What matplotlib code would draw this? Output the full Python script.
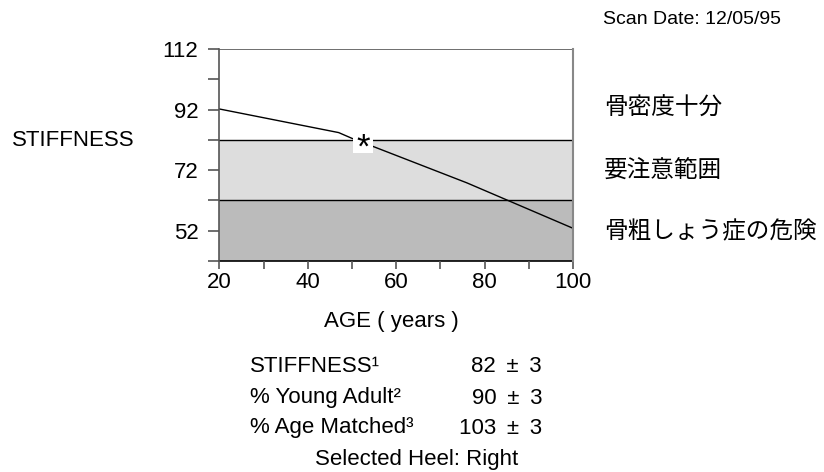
import matplotlib.pyplot as plt
from matplotlib.patches import Rectangle

plt.rcParams['font.family'] = ['Liberation Sans', 'Noto Sans CJK JP', 'DejaVu Sans']

# curve of reference stiffness by age
ages = [20, 47, 50, 55, 76, 100]
stiffness = [92.2, 84.4, 82.5, 79.7, 67.8, 52.8]

# zone limits
zone_low = 42
zone_mid = 62
zone_high = 82
y_top = 112

patient_age = 52.6
patient_value = 79.4

ytick_values = [42, 52, 62, 72, 82, 92, 102, 112]
ytick_labels = ['', '52', '', '72', '', '92', '', '112']
xtick_values = [20, 30, 40, 50, 60, 70, 80, 90, 100]
xtick_labels = ['20', '', '40', '', '60', '', '80', '', '100']

zone_names = ['骨密度十分', '要注意範囲', '骨粗しょう症の危険']
zone_label_px = [109, 172, 232]

row_names = ['STIFFNESS¹', '% Young Adult²', '% Age Matched³']
row_values = ['82 \u2009±\u2009 3', '90 \u2009±\u2009 3', '103 \u2009±\u2009 3']
row_px = [367, 398, 428]

W, H = 824, 472


def fx(px):
    return px / W


def fy(px):
    return 1 - px / H


fig = plt.figure(figsize=(8.24, 4.72), dpi=100)
ax = fig.add_axes([fx(219.3), fy(261), (573 - 219.3) / W, (261 - 49) / H])

ax.axhspan(zone_low, zone_mid, color='#bbbbbb', lw=0, zorder=0)
ax.axhspan(zone_mid, zone_high, color='#dddddd', lw=0, zorder=0)
ax.axhline(zone_mid, color='black', lw=1, zorder=1)
ax.axhline(zone_high, color='black', lw=1, zorder=1)
ax.axhline(y_top, color='#555555', lw=1.2, zorder=1)
ax.plot(ages, stiffness, color='black', lw=1, zorder=2)

ax.add_patch(Rectangle((50.3, 77.7), 4.5, 5.9,
                       facecolor='white', edgecolor='none', zorder=3))
ax.text(patient_age, patient_value, '*', fontsize=25, ha='center', va='center',
        zorder=4)

ax.set_xlim(20, 100)
ax.set_ylim(zone_low, y_top)
ax.set_xticks(xtick_values)
ax.set_xticklabels(xtick_labels)
ax.set_yticks(ytick_values)
ax.set_yticklabels(ytick_labels)
ax.tick_params(axis='both', direction='out', width=1.2,
               color='#555555', labelsize=16)
ax.tick_params(axis='y', length=8, pad=7)
ax.tick_params(axis='x', length=5.5, pad=2.5)

for side in ['top', 'bottom']:
    ax.spines[side].set_visible(False)
ax.spines['left'].set_color('#555555')
ax.spines['left'].set_linewidth(1.2)
ax.spines['right'].set_color('#888888')
ax.spines['right'].set_linewidth(1.5)
ax.axhline(zone_low, color='black', lw=1.2, zorder=1, clip_on=False)

for name, yp in zip(zone_names, zone_label_px):
    fig.text(fx(604), fy(yp), name, fontsize=17, va='center', ha='left')

fig.text(fx(12), fy(140), 'STIFFNESS', fontsize=16, va='center')
fig.text(fx(603), fy(20), 'Scan Date: 12/05/95', fontsize=14, va='center')
fig.text(fx(391.5), fy(321), 'AGE ( years )', fontsize=16,
         va='center', ha='center')

for name, val, yp in zip(row_names, row_values, row_px):
    fig.text(fx(250), fy(yp), name, fontsize=16, va='center')
    fig.text(fx(542), fy(yp), val, fontsize=16, va='center', ha='right')
fig.text(fx(416.5), fy(459), 'Selected Heel: Right', fontsize=16,
         va='center', ha='center')

fig.savefig('out.png', dpi=100)
